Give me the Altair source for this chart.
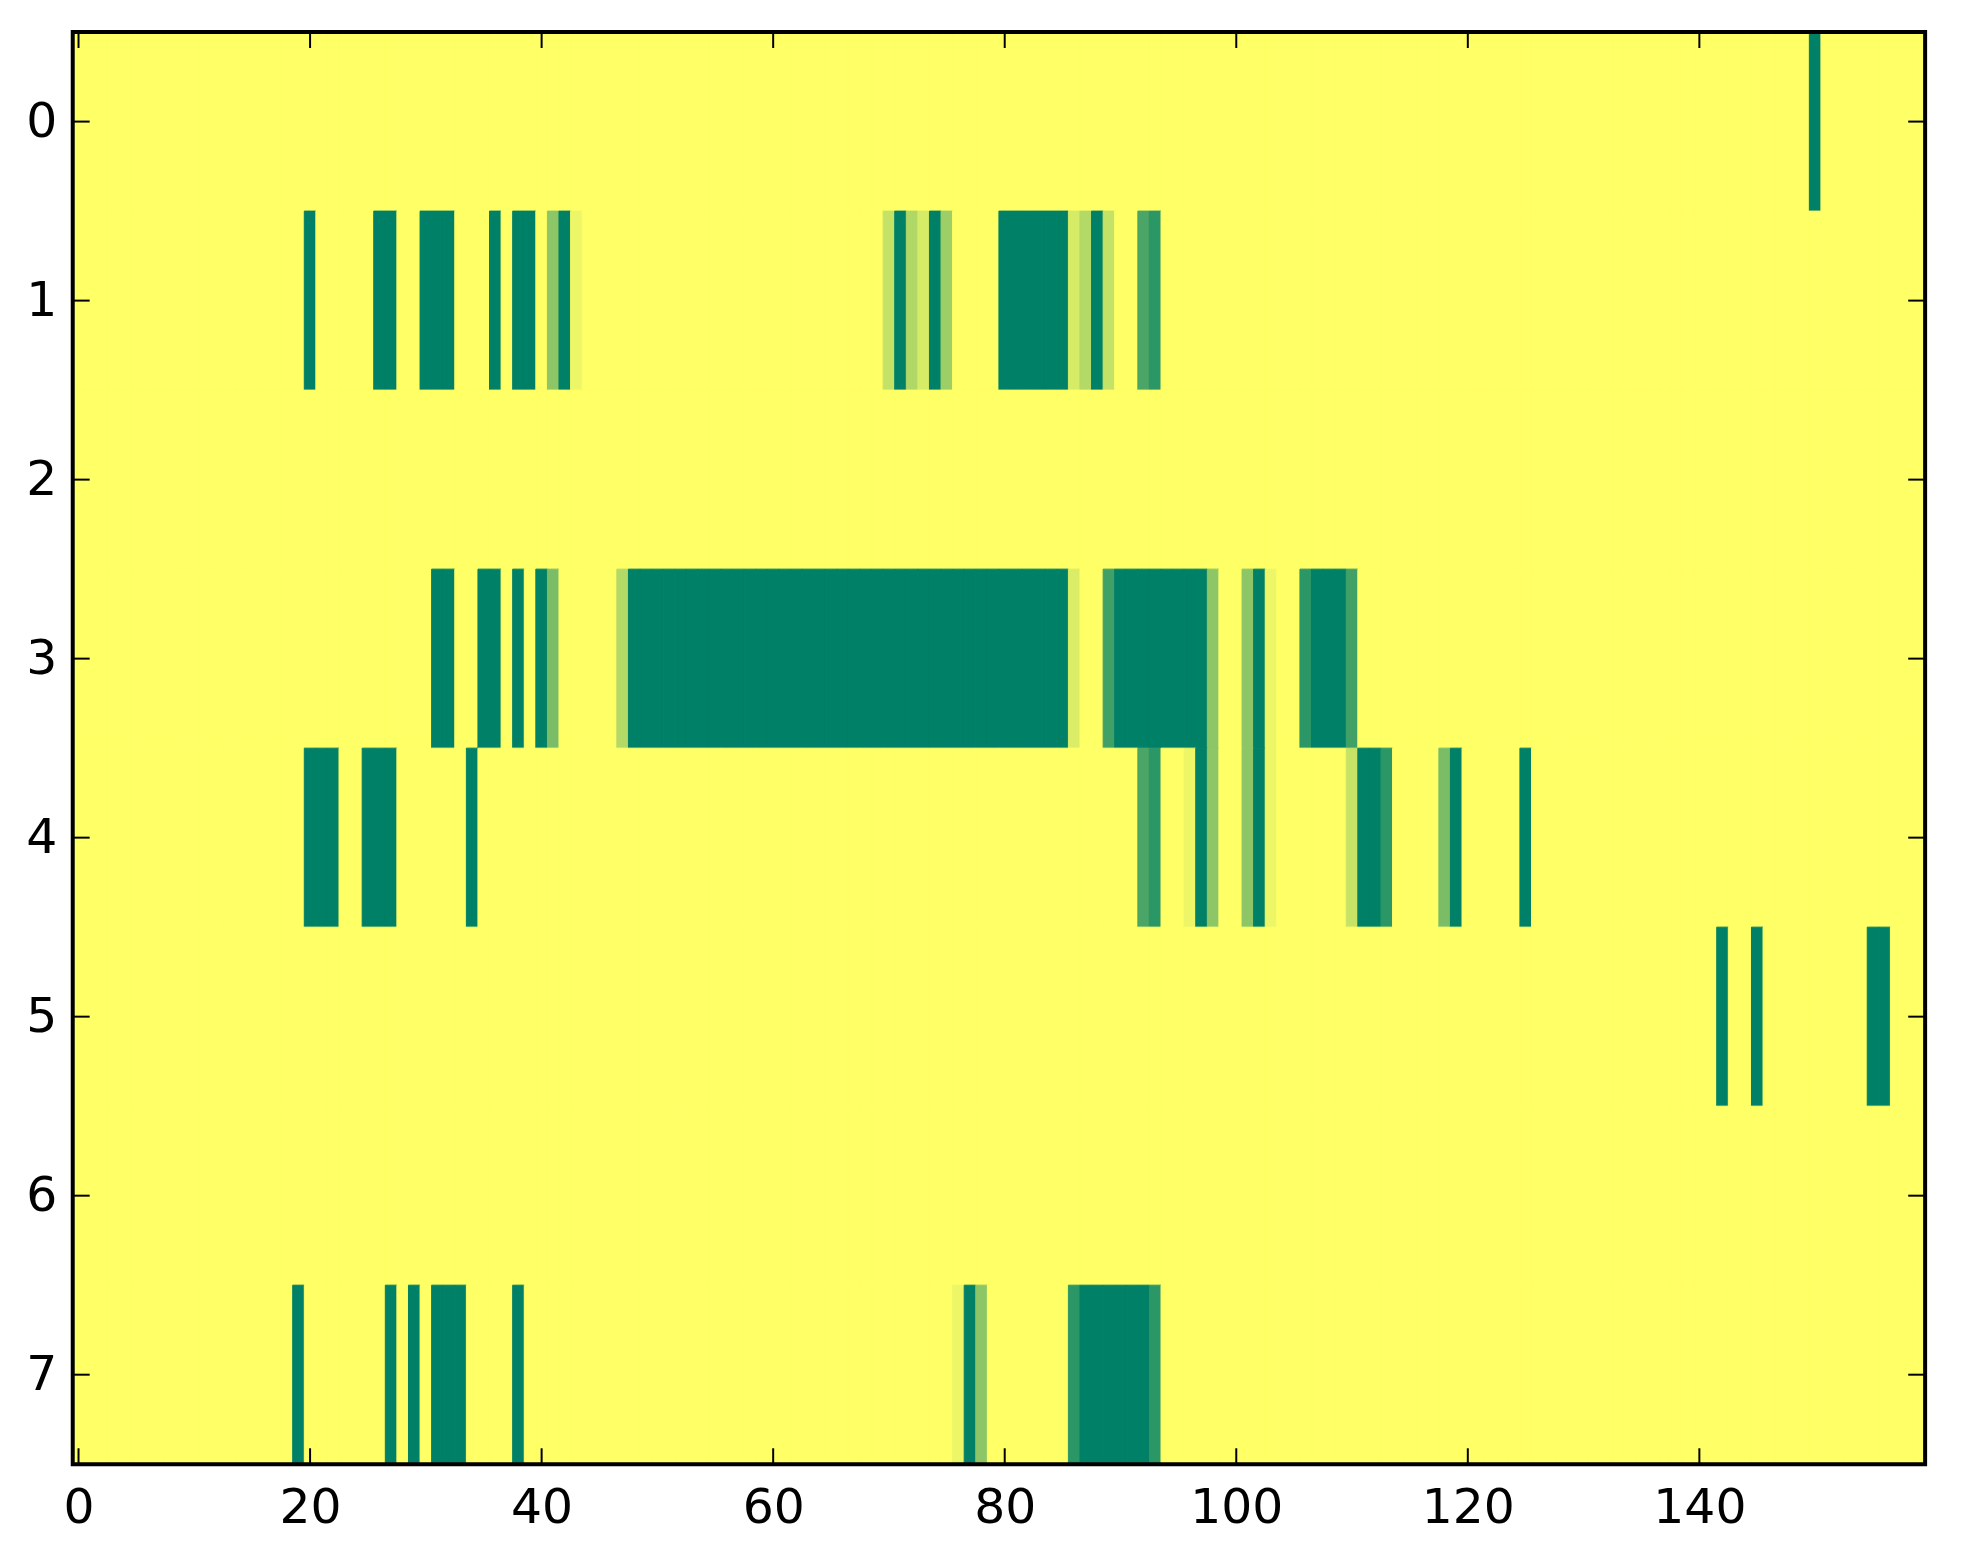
import altair as alt
import pandas as pd

n_cols = 160
n_rows = 8

row0_cols = [150]
row0_vals = [1]

row1_cols = [20, 26, 27, 30, 31, 32, 36, 38, 39, 41, 42, 43,
             70, 71, 72, 73, 74, 75, 80, 81, 82, 83, 84, 85,
             86, 87, 88, 89, 92, 93]
row1_vals = [1, 1, 1, 1, 1, 1, 1, 1, 1, 0.45, 1, 0.07,
             0.23, 1, 0.31, 0.16, 1, 0.38, 1, 1, 1, 1, 1, 1,
             0.16, 0.30, 1, 0.23, 0.71, 0.83]

row2_cols = []
row2_vals = []

row3_cols = [31, 32, 35, 36, 38, 40, 41, 47,
             48, 49, 50, 51, 52, 53, 54, 55, 56, 57, 58, 59, 60, 61, 62, 63,
             64, 65, 66, 67, 68, 69, 70, 71, 72, 73, 74, 75, 76, 77, 78, 79,
             80, 81, 82, 83, 84, 85,
             86, 89, 90, 91, 92, 93, 94, 95, 96, 97, 98, 101, 102, 103,
             106, 107, 108, 109, 110]
row3_vals = [1, 1, 1, 1, 1, 1, 0.52, 0.30,
             1, 1, 1, 1, 1, 1, 1, 1, 1, 1, 1, 1, 1, 1, 1, 1,
             1, 1, 1, 1, 1, 1, 1, 1, 1, 1, 1, 1, 1, 1, 1, 1,
             1, 1, 1, 1, 1, 1,
             0.14, 0.75, 1, 1, 1, 1, 1, 1, 1, 1, 0.45, 0.45, 1, 0.07,
             0.83, 1, 1, 1, 0.75]

row4_cols = [20, 21, 22, 25, 26, 27, 34, 92, 93, 96, 97, 98, 101, 102, 103,
             110, 111, 112, 113, 118, 119, 125]
row4_vals = [1, 1, 1, 1, 1, 1, 1, 0.71, 0.83, 0.07, 1, 0.45, 0.45, 1, 0.07,
             0.22, 1, 1, 0.83, 0.52, 1, 1]

row5_cols = [142, 145, 155, 156]
row5_vals = [1, 1, 1, 1]

row6_cols = []
row6_vals = []

row7_cols = [19, 27, 29, 31, 32, 33, 38, 76, 77, 78, 86, 87, 88, 89, 90, 91, 92, 93]
row7_vals = [1, 1, 1, 1, 1, 1, 1, 0.07, 1, 0.45, 0.83, 1, 1, 1, 1, 1, 1, 0.83]

x_ticks = [0, 20, 40, 60, 80, 100, 120, 140]
y_ticks = [0, 1, 2, 3, 4, 5, 6, 7]

rows = [(row0_cols, row0_vals), (row1_cols, row1_vals), (row2_cols, row2_vals),
        (row3_cols, row3_vals), (row4_cols, row4_vals), (row5_cols, row5_vals),
        (row6_cols, row6_vals), (row7_cols, row7_vals)]

records = []
for r, (cols, vals) in enumerate(rows):
    lookup = dict(zip(cols, vals))
    for c in range(n_cols):
        records.append({"row": r, "col": c, "v": lookup.get(c, 0.0),
                        "x0": c - 0.5, "x1": c + 0.5, "y0": r - 0.5, "y1": r + 0.5})
df = pd.DataFrame(records)

W, H = 1860, 1438
FONT = "DejaVu Sans"

xscale = alt.Scale(domain=[-0.5, n_cols - 0.5], nice=False, zero=False)
yscale = alt.Scale(domain=[-0.5, n_rows - 0.5], nice=False, zero=False, reverse=True)
xaxis = alt.Axis(values=x_ticks, format="d", title=None, ticks=False, tickSize=0,
                 domain=False, grid=False, labelFont=FONT, labelFontSize=49,
                 labelColor="black", labelPadding=20, labelBaseline="top")
yaxis = alt.Axis(values=y_ticks, format="d", title=None, ticks=False, tickSize=0,
                 domain=False, grid=False, labelFont=FONT, labelFontSize=49,
                 labelColor="black", labelPadding=16)

color_scale = alt.Scale(domain=[0, 1], range=["#ffff66", "#008066"], interpolate="rgb")

heat = alt.Chart(df).mark_rect(strokeWidth=1).encode(
    x=alt.X("x0:Q", scale=xscale, axis=xaxis),
    x2="x1:Q",
    y=alt.Y("y0:Q", scale=yscale, axis=yaxis),
    y2="y1:Q",
    color=alt.Color("v:Q", scale=color_scale, legend=None),
    stroke=alt.Stroke("v:Q", scale=color_scale, legend=None),
)

xt = pd.DataFrame({"t": x_ticks})
yt = pd.DataFrame({"t": y_ticks})
TL = 16

xt_bottom = alt.Chart(xt).mark_rule(color="black", strokeWidth=2).encode(
    x=alt.X("t:Q", scale=xscale, axis=xaxis), y=alt.value(H), y2=alt.value(H - TL))
xt_top = alt.Chart(xt).mark_rule(color="black", strokeWidth=2).encode(
    x=alt.X("t:Q", scale=xscale, axis=xaxis), y=alt.value(0), y2=alt.value(TL))
yt_left = alt.Chart(yt).mark_rule(color="black", strokeWidth=2).encode(
    y=alt.Y("t:Q", scale=yscale, axis=yaxis), x=alt.value(0), x2=alt.value(TL + 1))
yt_right = alt.Chart(yt).mark_rule(color="black", strokeWidth=2).encode(
    y=alt.Y("t:Q", scale=yscale, axis=yaxis), x=alt.value(W), x2=alt.value(W - TL - 1))

frame = alt.Chart(pd.DataFrame({"f": [0]})).mark_rect(
    fill=None, fillOpacity=0, stroke="black", strokeWidth=4, clip=False
).encode(x=alt.value(0), x2=alt.value(W), y=alt.value(0), y2=alt.value(H))

chart = alt.layer(heat, xt_bottom, xt_top, yt_left, yt_right, frame).properties(
    width=W, height=H,
    autosize=alt.AutoSizeParams(type="none"),
    padding={"left": 65, "top": 21, "right": 30, "bottom": 90},
    background="white",
).configure_view(stroke=None)

chart.save("out.html", embed_options={"renderer": "svg", "actions": False})
